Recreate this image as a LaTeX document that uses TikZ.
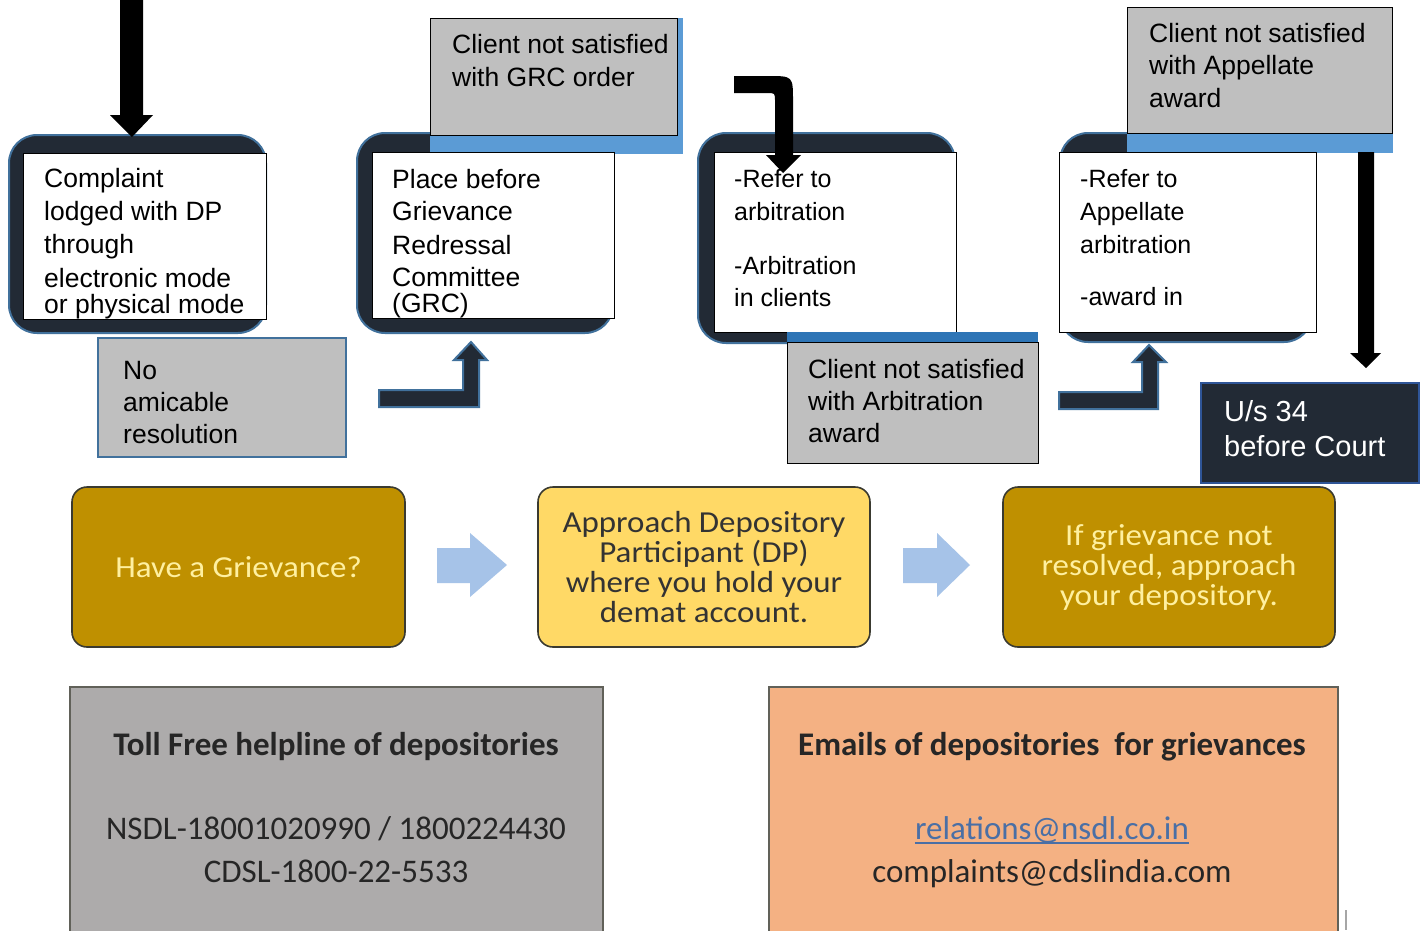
\documentclass[tikz,border=0pt]{standalone}
\usepackage{fontspec}
\setmainfont{Liberation Sans}
\newfontfamily\calfont{Carlito}
\definecolor{navy}{HTML}{222A35}
\definecolor{edgeblue}{HTML}{41719C}
\definecolor{bandblue}{HTML}{5B9BD5}
\definecolor{banddark}{HTML}{2E75B6}
\definecolor{boxgray}{HTML}{BFBFBF}
\definecolor{gold}{HTML}{BF9000}
\definecolor{goldtext}{HTML}{FFF0A0}
\definecolor{paleyellow}{HTML}{FFD966}
\definecolor{arrowblue}{HTML}{A6C3E8}
\definecolor{helpgray}{HTML}{ADABAB}
\definecolor{peach}{HTML}{F4B183}
\definecolor{linkblue}{HTML}{4A6FA5}
\definecolor{darkedge}{HTML}{3A3A30}
\definecolor{courtedge}{HTML}{2F5597}
\newcommand{\fl}{\rule{0pt}{22pt}}
\begin{document}
\begin{tikzpicture}[x=1pt,y=-1pt,
  rect/.style={anchor=north west, inner sep=0pt, outer sep=0pt},
  stagebg/.style={rect, fill=navy, draw=edgeblue, line width=2pt, rounded corners=28pt},
  whitebox/.style={rect, fill=white, draw=black, line width=0.9pt},
  graybox/.style={rect, fill=boxgray, draw=black, line width=0.9pt},
  bandbox/.style={rect, fill=bandblue, draw=bandblue, line width=0.9pt},
  txt/.style={anchor=north west, inner sep=0pt, align=left, font=\fontsize{26.5}{33}\selectfont},
  txts/.style={txt, font=\fontsize{25}{33}\selectfont},
  navyarrow/.style={fill=navy, draw=edgeblue, line width=2pt},
  blackarrow/.style={fill=black},
  bluearrow/.style={fill=arrowblue},
  goldbox/.style={rect, rounded corners=15pt, draw=darkedge, line width=1.6pt},
  midtxt/.style={align=center, inner sep=0pt, transform shape, xscale=1.08, font=\calfont\fontsize{30.5}{30}\selectfont},
  infobox/.style={rect, draw=darkedge!80, line width=1.5pt},
  infotxt/.style={anchor=base, inner sep=0pt, font=\calfont\fontsize{33}{40}\selectfont, text=black!85}
]
\useasboundingbox (0,0) rectangle (1422,930);
\fill[white] (0,0) rectangle (1422,930);

% dark rounded stage backgrounds
\node[stagebg, minimum width=257, minimum height=198] (s1) at (9,135) {};
\node[stagebg, minimum width=256, minimum height=200] (s2) at (357,133) {};
\node[stagebg, minimum width=257, minimum height=210] (s3) at (698,133) {};
\node[stagebg, minimum width=252, minimum height=209] (s4) at (1060,133) {};

% top gray boxes with blue bands
\node[bandbox, minimum width=252, minimum height=135] (b2) at (430,18) {};
\node[graybox, minimum width=247, minimum height=117] (g2) at (430,18) {};
\node[bandbox, minimum width=265, minimum height=145] (b4) at (1127,7) {};
\node[graybox, minimum width=265, minimum height=126] (g4) at (1127,7) {};

% white boxes
\node[whitebox, minimum width=243, minimum height=166] (w1) at (23,153) {};
\node[whitebox, minimum width=242, minimum height=166] (w2) at (372,152) {};
\node[whitebox, minimum width=242, minimum height=180] (w3) at (714,152) {};
\node[whitebox, minimum width=257, minimum height=180] (w4) at (1059,152) {};

% arbitration gray box with band
\node[rect, fill=banddark, minimum width=251, minimum height=11] (b3) at (787,332) {};
\node[graybox, minimum width=251, minimum height=121] (g3) at (787,342) {};

% no amicable resolution
\node[rect, fill=boxgray, draw=edgeblue, line width=1.5pt, minimum width=248, minimum height=119] (g1) at (98,338) {};

% texts
\node[txt] (t1) at (44,165) {\fl Complaint\\lodged with DP\\through\\[1pt]electronic mode\\[-7pt]or physical mode};
\node[txt] (t2) at (392,166) {\fl Place before\\[-1pt]Grievance\\[1pt]Redressal\\[-1pt]Committee\\[-7pt](GRC)};
\node[txts] (t3) at (734,165) {\fl -Refer to\\arbitration\\[21pt]-Arbitration\\[-1pt]in clients};
\node[txts] (t4) at (1080,165) {\fl -Refer to\\Appellate\\arbitration\\[19pt]-award in};
\node[txt] (tg2) at (452,31) {\fl Client not satisfied\\with GRC order};
\node[txt, font=\fontsize{26.5}{32}\selectfont] (tg3) at (808,356) {\fl Client not satisfied\\with Arbitration\\award};
\node[txt, font=\fontsize{26.5}{32.5}\selectfont] (tg4) at (1149,20) {\fl Client not satisfied\\with Appellate\\award};
\node[txt, font=\fontsize{26.5}{32}\selectfont] (tg1) at (123,357) {\fl No\\amicable\\resolution};

% court box
\node[rect, fill=navy, draw=courtedge, line width=2.5pt, minimum width=218, minimum height=100] (court) at (1201,383) {};
\node[txt, text=white, font=\fontsize{29}{35}\selectfont] (tc) at (1224,399) {\fl U/s 34\\before Court};

% arrows
\fill[blackarrow] (120,-2) -- (143,-2) -- (143,115) -- (153,115) -- (132,137) -- (110,115) -- (120,115) -- cycle;
\draw[navyarrow] (379,390) -- (463,390) -- (463,360) -- (454,360) -- (471,342) -- (487,360) -- (479,360) -- (479,407) -- (379,407) -- cycle;
\draw[navyarrow] (1059,392) -- (1142,392) -- (1142,362) -- (1133,362) -- (1149,345) -- (1166,362) -- (1158,362) -- (1158,409) -- (1059,409) -- cycle;
\fill[blackarrow] (734,76) -- (768,76) .. controls (793,76) .. (793,101) -- (793,155) -- (801,155) -- (783,173) -- (766,155) -- (775,155) -- (775,101) .. controls (775,93) .. (767,93) -- (734,93) -- cycle;
\fill[blackarrow] (1358,152) -- (1374,152) -- (1374,353) -- (1381,353) -- (1366,368) -- (1350,353) -- (1358,353) -- cycle;

% middle row
\node[goldbox, fill=gold, minimum width=333, minimum height=160] (m1) at (72,487) {};
\node[goldbox, fill=paleyellow, minimum width=332, minimum height=160] (m2) at (538,487) {};
\node[goldbox, fill=gold, minimum width=332, minimum height=160] (m3) at (1003,487) {};
\node[midtxt, text=goldtext] (mt1) at (m1.center) {Have a Grievance?};
\node[midtxt, text=black!80] (mt2) at (m2.center) {Approach Depository\\Participant (DP)\\where you hold your\\demat account.};
\node[midtxt, text=goldtext] (mt3) at (m3.center) {If grievance not\\resolved, approach\\your depository.};
\fill[bluearrow] (437,548) -- (470,548) -- (470,533) -- (507,565) -- (470,597) -- (470,583) -- (437,583) -- cycle;
\fill[bluearrow] (903,548) -- (937,548) -- (937,533) -- (970,565) -- (937,597) -- (937,583) -- (903,583) -- cycle;

% bottom row
\node[infobox, fill=helpgray, minimum width=533, minimum height=260] (h1) at (70,687) {};
\node[infobox, fill=peach, minimum width=569, minimum height=260] (h2) at (769,687) {};
\node[infotxt, font=\calfont\bfseries\fontsize{33}{40}\selectfont] (h1a) at (336,755) {Toll Free helpline of depositories};
\node[infotxt] (h1b) at (336,839) {NSDL-18001020990 / 1800224430};
\node[infotxt] (h1c) at (336,882) {CDSL-1800-22-5533};
\node[infotxt, font=\calfont\bfseries\fontsize{33}{40}\selectfont] (h2a) at (1052,755) {Emails of depositories\ \ for grievances};
\node[infotxt, text=linkblue] (h2b) at (1052,839) {relations@nsdl.co.in};
\draw[linkblue, line width=1.3pt] ([yshift=-4pt]h2b.base west) -- ([yshift=-4pt]h2b.base east);
\node[infotxt] (h2c) at (1052,882) {complaints@cdslindia.com};
\draw[black!35, line width=1.5pt] (1346,910) -- (1346,930);
\end{tikzpicture}
\end{document}
